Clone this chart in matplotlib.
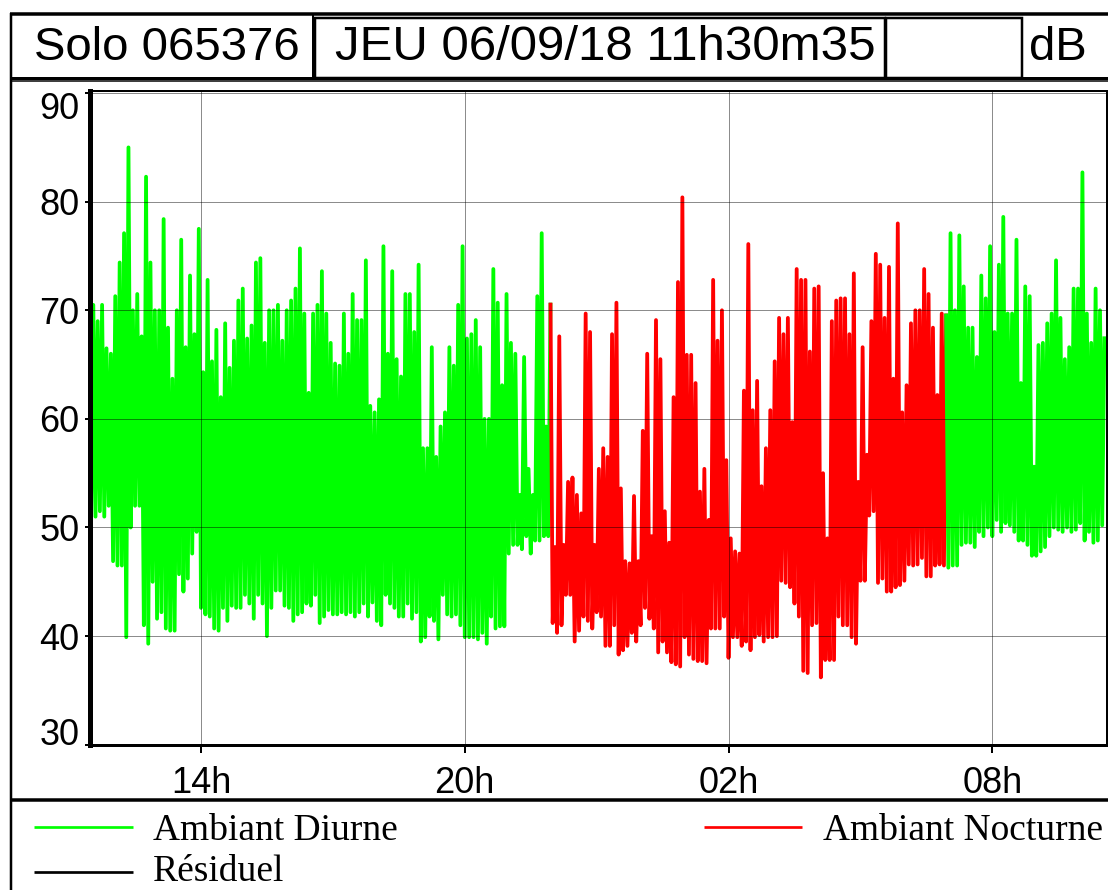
import numpy as np
import matplotlib
matplotlib.use("Agg")
import matplotlib.pyplot as plt
from matplotlib.patches import Rectangle
from matplotlib.transforms import ScaledTranslation

# ---------------- data ----------------
start_hour = 11.5          # first 6-minute bin starts at 11h30
step_hour = 0.1            # 6-minute bins
night_start = 22.0         # Ambiant Nocturne from 22h ...
night_end = 31.0           # ... to 07h the next day

level_high = [
    70.5, 69.0, 70.5, 66.5, 66.0, 71.3, 74.4, 77.1, 85.0, 70.0,
    71.5, 67.6, 82.3, 74.4, 70.0, 70.0, 78.4, 68.4, 63.7, 70.0,
    76.5, 66.6, 73.2, 67.8, 77.5, 64.3, 72.8, 65.3, 68.2, 62.0,
    68.8, 64.7, 67.2, 70.9, 72.0, 67.4, 68.6, 74.4, 74.8, 67.0,
    70.0, 70.0, 70.5, 67.2, 70.0, 70.9, 72.0, 75.7, 69.7, 62.4,
    69.7, 70.5, 73.6, 69.7, 67.0, 65.1, 64.9, 69.7, 66.0, 71.5,
    69.1, 69.1, 74.6, 61.2, 60.6, 61.8, 75.9, 66.0, 73.6, 65.5,
    63.9, 71.5, 71.5, 68.0, 74.2, 57.3, 57.3, 66.6, 56.5, 59.3,
    60.6, 66.6, 64.9, 70.5, 75.9, 67.4, 67.8, 69.1, 66.6, 60.0,
    60.0, 73.8, 70.7, 63.1, 71.5, 67.0, 66.0, 53.0, 65.7, 55.4,
    53.0, 71.3, 77.1, 59.3, 70.7, 48.2, 67.6, 48.4, 54.2, 54.6,
    53.0, 51.3, 69.7, 68.0, 48.4, 55.4, 57.3, 56.5, 67.8, 70.7,
    53.6, 46.9, 46.7, 52.9, 46.9, 58.9, 66.0, 49.2, 69.1, 65.5,
    51.5, 48.6, 62.0, 72.6, 80.4, 65.9, 65.9, 63.3, 53.3, 55.4,
    50.7, 72.8, 67.2, 70.0, 56.2, 49.0, 47.8, 47.6, 62.6, 76.1,
    60.8, 63.5, 53.8, 57.3, 60.8, 65.3, 69.3, 67.8, 69.3, 59.7,
    73.8, 72.8, 72.8, 66.2, 72.0, 72.2, 55.0, 49.0, 69.0, 70.9,
    71.1, 71.1, 67.8, 73.4, 54.2, 66.6, 56.7, 69.0, 75.2, 74.2,
    69.3, 74.0, 63.7, 78.0, 60.6, 63.1, 68.8, 70.0, 70.0, 73.8,
    71.5, 68.4, 62.2, 69.7, 69.7, 77.1, 70.0, 76.9, 72.2, 68.4,
    68.4, 65.7, 73.2, 71.1, 75.9, 68.0, 74.2, 78.6, 69.7, 69.7,
    76.5, 63.3, 72.2, 71.3, 55.6, 66.8, 67.0, 68.8, 69.7, 74.6,
    69.3, 65.5, 66.6, 72.0, 72.0, 82.7, 69.7, 67.0, 72.0, 70.0,
    67.6,
]
level_low = [
    51.0, 51.0, 51.5, 51.0, 52.0, 46.9, 46.5, 46.5, 39.9, 50.0,
    52.0, 52.0, 41.0, 39.3, 45.0, 41.6, 42.2, 40.7, 40.5, 40.5,
    45.7, 44.1, 45.3, 47.6, 49.6, 42.6, 42.0, 41.8, 40.7, 40.5,
    42.6, 41.4, 42.8, 42.6, 42.6, 43.8, 43.0, 41.6, 43.8, 43.0,
    40.0, 42.6, 44.2, 44.2, 42.8, 42.6, 41.4, 42.0, 42.2, 43.0,
    42.8, 43.8, 41.2, 41.8, 42.4, 42.0, 42.0, 42.2, 42.0, 42.2,
    41.8, 42.2, 43.0, 41.8, 43.1, 41.4, 41.0, 43.8, 43.0, 42.6,
    41.8, 41.8, 43.0, 41.6, 42.2, 39.5, 39.9, 41.8, 41.4, 39.7,
    43.8, 42.0, 41.8, 42.0, 41.0, 39.9, 39.9, 39.9, 39.7, 40.3,
    39.3, 41.8, 40.7, 40.9, 40.9, 47.6, 48.4, 48.4, 48.0, 49.2,
    47.6, 48.8, 48.8, 49.2, 49.2, 41.2, 40.3, 41.0, 43.8, 43.8,
    39.5, 40.5, 41.8, 41.4, 40.7, 42.2, 41.8, 39.1, 39.1, 41.0,
    38.3, 38.7, 39.1, 40.3, 39.5, 41.0, 42.6, 41.6, 40.7, 38.5,
    39.5, 38.5, 37.6, 37.4, 37.2, 39.9, 38.3, 37.9, 37.7, 37.7,
    37.5, 40.7, 40.7, 40.7, 41.8, 38.0, 39.9, 39.9, 39.1, 39.5,
    38.7, 39.9, 40.1, 39.5, 39.9, 39.9, 40.0, 45.1, 44.9, 44.5,
    43.0, 41.8, 36.8, 36.6, 41.0, 41.2, 36.2, 37.8, 37.8, 37.8,
    41.8, 41.0, 41.0, 39.9, 39.3, 45.1, 45.1, 51.1, 51.5, 44.9,
    45.3, 44.1, 44.1, 44.5, 44.7, 45.1, 46.6, 46.5, 46.6, 47.2,
    45.5, 45.5, 46.5, 46.6, 46.5, 46.3, 46.5, 46.5, 48.4, 48.6,
    48.6, 48.2, 49.6, 49.2, 50.0, 49.2, 50.7, 49.6, 50.4, 50.2,
    49.6, 48.8, 48.8, 48.4, 47.4, 47.4, 47.8, 48.2, 49.2, 50.0,
    49.8, 49.6, 50.0, 49.6, 49.8, 50.4, 48.8, 49.6, 48.6, 48.8,
    50.2,
]

x_ticks = [14, 20, 26, 32]
x_tick_labels = ["14h", "20h", "02h", "08h"]
y_ticks = [30, 40, 50, 60, 70, 80, 90]
header_cells = ["Solo 065376", "JEU 06/09/18 11h30m35", "", "dB"]
legend_labels = ["Ambiant Diurne", "Ambiant Nocturne", "R\u00e9siduel"]
series_colors = ["#00ff00", "#ff0000", "#000000"]

# ---------------- figure ----------------
W, H = 1108, 890
DPI = 100
PX = 72.0 / DPI  # points per pixel
SANS = ["Liberation Sans", "DejaVu Sans"]
SERIF = ["Liberation Serif", "DejaVu Serif"]

fig = plt.figure(figsize=(W / DPI, H / DPI), dpi=DPI, facecolor="white")

# overlay in pixel coordinates for frames, header and legend
ov = fig.add_axes([0, 0, 1, 1], zorder=0)
ov.set_xlim(0, W)
ov.set_ylim(H, 0)
ov.axis("off")


def hline(y, x0, x1, lw, color="black"):
    ov.plot([x0, x1], [y, y], color=color, lw=lw * PX, solid_capstyle="butt")


def vline(x, y0, y1, lw, color="black"):
    ov.plot([x, x], [y0, y1], color=color, lw=lw * PX, solid_capstyle="butt")


# outer frame
hline(14, 10, W, 3.5)
vline(11, 12.5, H, 2.5)
hline(78, 10, W, 3)
hline(81, 10, W, 1.5)
hline(799.5, 10, W, 3.5)
# header cells
ov.add_patch(Rectangle((315, 17.5), 570, 60, fill=False, lw=2.5 * PX, ec="black"))
ov.add_patch(Rectangle((886, 17.5), 136, 60, fill=False, lw=2.5 * PX, ec="black"))
vline(313, 14, 79, 2)

ov.text(34, 60, header_cells[0], fontsize=34, family=SANS, ha="left", va="baseline")
ov.text(335, 60, header_cells[1], fontsize=35.5, family=SANS, ha="left", va="baseline")
ov.text(954, 60, header_cells[2], fontsize=34, family=SANS, ha="center", va="baseline")
ov.text(1029, 60, header_cells[3], fontsize=34, family=SANS, ha="left", va="baseline")

# legend
leg_rows = [(827, 34, 133, 153, 840), (827, 704, 802, 823, 840), (872, 34, 133, 153, 881)]
for (ly, lx0, lx1, tx, ty), lab, col in zip(leg_rows, legend_labels, series_colors):
    hline(ly, lx0, lx1, 2.7, color=col)
    ov.text(tx, ty, lab, fontsize=27, family=SERIF, ha="left", va="baseline")

# ---------------- main plot ----------------
ax_left, ax_right, ax_top, ax_bottom = 89.5, 1106.5, 91.5, 744.7
ax = fig.add_axes([ax_left / W, (H - ax_bottom) / H,
                   (ax_right - ax_left) / W, (ax_bottom - ax_top) / H], zorder=2)
ax.set_facecolor("white")

px_per_hour = (992.3 - 201.0) / 18.0
x_lo = 14 - (201.0 - ax_left) / px_per_hour
x_hi = 32 + (ax_right - 992.3) / px_per_hour
px_per_db = (ax_bottom - 201.7) / 50.0
y_hi = 30 + (ax_bottom - ax_top) / px_per_db
ax.set_xlim(x_lo, x_hi)
ax.set_ylim(30, y_hi)

hi = np.asarray(level_high)
lo = np.asarray(level_low)
t = start_hour + step_hour * np.arange(len(hi))
xs = np.column_stack([t, t + step_hour / 2]).ravel()
ys = np.column_stack([lo, hi]).ravel()

period = np.where(t < night_start, 0, np.where(t < night_end, 1, 2))
pt_period = np.repeat(period, 2)
for p, col in [(0, series_colors[0]), (1, series_colors[1]), (2, series_colors[0])]:
    idx = np.nonzero(pt_period == p)[0]
    if idx.size == 0:
        continue
    if idx[0] > 0:
        idx = np.concatenate([[idx[0] - 1], idx])
    ax.plot(xs[idx], ys[idx], color=col, lw=3.8 * PX, solid_joinstyle="round",
            solid_capstyle="butt", zorder=2)

ax.set_xticks(x_ticks)
ax.set_xticklabels(x_tick_labels)
ax.set_yticks(y_ticks)
ax.set_yticklabels([str(v) for v in y_ticks])
ax.grid(True, color="black", alpha=0.45, lw=1.0 * PX, zorder=3)
ax.set_axisbelow(False)
for gl in ax.get_xgridlines() + ax.get_ygridlines():
    gl.set_zorder(3)

ax.tick_params(axis="x", direction="out", length=8 * PX, width=2 * PX,
               pad=13 * PX, labelsize=26)
ax.tick_params(axis="y", direction="out", length=5 * PX, width=2 * PX,
               pad=5 * PX, labelsize=26)
for lab in ax.get_xticklabels() + ax.get_yticklabels():
    lab.set_family(SANS)

yt = ax.yaxis.get_major_ticks()
yt[0].label1.set_verticalalignment("baseline")
yt[-1].label1.set_verticalalignment("baseline")
yt[-1].label1.set_transform(yt[-1].label1.get_transform() +
                            ScaledTranslation(0, -26.0 / DPI, fig.dpi_scale_trans))

ax.spines["left"].set_linewidth(5 * PX)
ax.spines["bottom"].set_linewidth(3 * PX)
ax.spines["top"].set_linewidth(2 * PX)
ax.spines["right"].set_linewidth(2 * PX)

fig.savefig("out.png", dpi=DPI, facecolor="white")
